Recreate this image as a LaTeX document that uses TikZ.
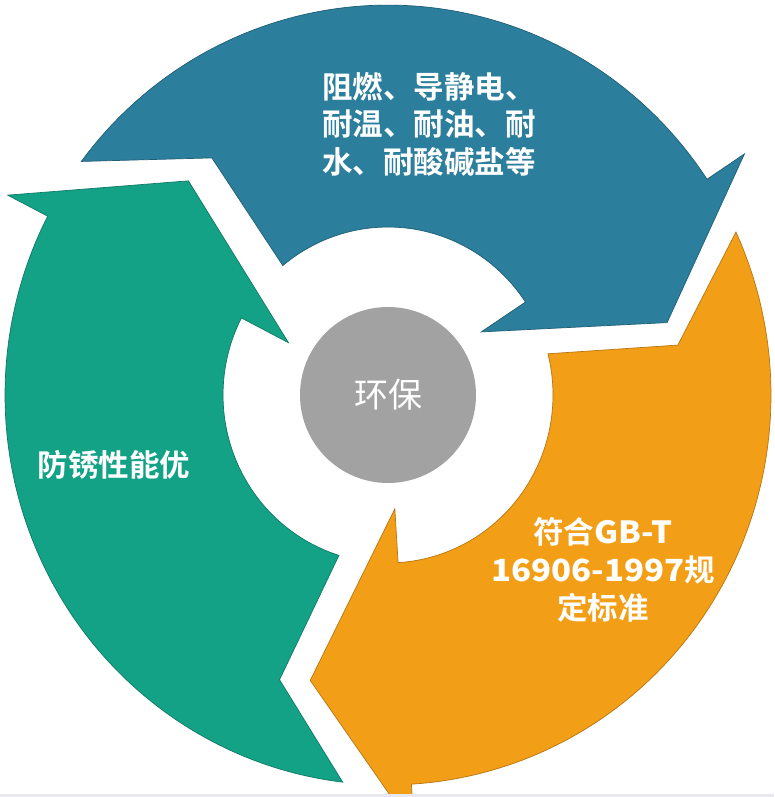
\documentclass[tikz,border=0pt]{standalone}
\usepackage{fontspec}
\newfontfamily\cjk{Noto Sans CJK SC}[BoldFont={Noto Sans CJK SC Bold}]
\newfontfamily\cjkwide{Noto Sans CJK SC Bold}[FakeStretch=1.08]
\definecolor{cblue}{HTML}{2B7E9C}
\definecolor{cgreen}{HTML}{14A286}
\definecolor{corange}{HTML}{F39E17}
\definecolor{cgray}{HTML}{A2A2A2}
\definecolor{cline}{HTML}{E8E8EE}
\newcommand{\Rout}{383}
\newcommand{\Rin}{165}
\newcommand{\Rbo}{428}
\newcommand{\Rbi}{112}
% #1 colour, #2 tail outer angle, #3 notch angle, #4 notch radius,
% #5 tail inner angle, #6 head base angle, #7 tip angle, #8 tip radius
\newcommand{\cyclearrow}[8]{%
  \filldraw[fill=#1, draw=#1!75!black, line width=0.7pt, line join=miter]
    (#2:\Rout) arc[start angle=#2, end angle=#6, radius=\Rout]
    -- (#6:\Rbo) -- (#7:#8) -- (#6:\Rbi) -- (#6:\Rin)
    arc[start angle=#6, end angle=#5, radius=\Rin]
    -- (#3:#4) -- cycle;}
\begin{document}
\begin{tikzpicture}[x=1pt, y=1pt,
  label/.style={text=white, inner sep=0pt, font=\cjk\bfseries\fontsize{30.5}{37.5}\selectfont},
  hub/.style={circle, fill=cgray, minimum size=176pt, inner sep=0pt, text=white,
    font=\cjk\fontsize{34}{40}\selectfont}]
\useasboundingbox (0,0) rectangle (774,797);
\fill[white] (0,0) rectangle (774,797);
\begin{scope}[shift={(388,402)}, yscale=1.018]
  \cyclearrow{cblue}{143.2}{127.1}{292}{129.6}{33.6}{14.3}{288}
  \cyclearrow{corange}{24.7}{9.6}{294}{14.2}{-86.5}{-105.5}{291}
  \cyclearrow{cgreen}{-96.8}{-111.2}{300}{-107.3}{-207.3}{-226.5}{290}
\end{scope}
\node[hub] (hub) at (388,402) {环保};
\node[label, align=left] (t1) at (429,673) {阻燃、导静电、\\耐温、耐油、耐\\水、耐酸碱盐等};
\node[label] (t2) at (114,332) {防锈性能优};
\node[label, align=center, font=\cjk\bfseries\fontsize{30.5}{38}\selectfont] (t3) at (603,227)
  {符合{\cjkwide GB-T}\\{\cjkwide 16906-1997}规\\定标准};
\fill[cline] (0,0) rectangle (774,3);
\end{tikzpicture}
\end{document}
